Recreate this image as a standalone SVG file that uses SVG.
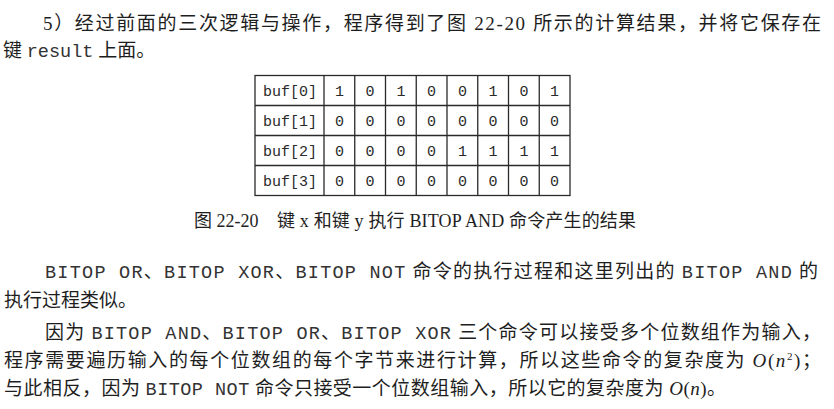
<svg xmlns="http://www.w3.org/2000/svg" width="834" height="409" viewBox="0 0 834 409">
<style>
.t{font-family:"Liberation Serif","Noto Sans CJK SC",serif;font-size:19px;fill:#1e1e1e}
.m{font-family:"Liberation Mono","Noto Sans CJK SC",monospace;font-size:18.5px;fill:#333333}
.cap{font-family:"Liberation Serif","Noto Sans CJK SC",serif;font-size:18px;fill:#1e1e1e}
.cell{font-family:"Liberation Mono",monospace;font-size:15px;fill:#2a2a2a;text-anchor:middle}
.grid{stroke:#2a2a2a;stroke-width:1.3;fill:none}
.i{font-style:italic}
</style>
<rect width="834" height="409" fill="#ffffff"/>
<g id="para1">
<text class="t" x="43" y="30" textLength="778" lengthAdjust="spacing">5）经过前面的三次逻辑与操作，程序得到了图 22-20 所示的计算结果，并将它保存在</text>
<text class="t" x="3" y="57">键 <tspan class="m">result</tspan> 上面。</text>
</g>
<g id="table">
<rect class="grid" x="255" y="75.5" width="315" height="120"/>
<g class="grid">
<line x1="255" y1="105.5" x2="570" y2="105.5"/>
<line x1="255" y1="135.5" x2="570" y2="135.5"/>
<line x1="255" y1="165.5" x2="570" y2="165.5"/>
<line x1="324" y1="75.5" x2="324" y2="195.5"/>
<line x1="354.75" y1="75.5" x2="354.75" y2="195.5"/>
<line x1="385.5" y1="75.5" x2="385.5" y2="195.5"/>
<line x1="416.25" y1="75.5" x2="416.25" y2="195.5"/>
<line x1="447" y1="75.5" x2="447" y2="195.5"/>
<line x1="477.75" y1="75.5" x2="477.75" y2="195.5"/>
<line x1="508.5" y1="75.5" x2="508.5" y2="195.5"/>
<line x1="539.25" y1="75.5" x2="539.25" y2="195.5"/>
</g>
<g id="row0">
<text class="cell" x="290" y="96">buf[0]</text>
<text class="cell" x="339.4" y="96">1</text><text class="cell" x="370.1" y="96">0</text><text class="cell" x="400.9" y="96">1</text><text class="cell" x="431.6" y="96">0</text><text class="cell" x="462.4" y="96">0</text><text class="cell" x="493.1" y="96">1</text><text class="cell" x="523.9" y="96">0</text><text class="cell" x="554.6" y="96">1</text>
</g>
<g id="row1">
<text class="cell" x="290" y="126">buf[1]</text>
<text class="cell" x="339.4" y="126">0</text><text class="cell" x="370.1" y="126">0</text><text class="cell" x="400.9" y="126">0</text><text class="cell" x="431.6" y="126">0</text><text class="cell" x="462.4" y="126">0</text><text class="cell" x="493.1" y="126">0</text><text class="cell" x="523.9" y="126">0</text><text class="cell" x="554.6" y="126">0</text>
</g>
<g id="row2">
<text class="cell" x="290" y="156">buf[2]</text>
<text class="cell" x="339.4" y="156">0</text><text class="cell" x="370.1" y="156">0</text><text class="cell" x="400.9" y="156">0</text><text class="cell" x="431.6" y="156">0</text><text class="cell" x="462.4" y="156">1</text><text class="cell" x="493.1" y="156">1</text><text class="cell" x="523.9" y="156">1</text><text class="cell" x="554.6" y="156">1</text>
</g>
<g id="row3">
<text class="cell" x="290" y="186">buf[3]</text>
<text class="cell" x="339.4" y="186">0</text><text class="cell" x="370.1" y="186">0</text><text class="cell" x="400.9" y="186">0</text><text class="cell" x="431.6" y="186">0</text><text class="cell" x="462.4" y="186">0</text><text class="cell" x="493.1" y="186">0</text><text class="cell" x="523.9" y="186">0</text><text class="cell" x="554.6" y="186">0</text>
</g>
</g>
<g id="caption">
<text class="cap" x="194" y="227">图 22-20</text>
<text class="cap" x="277" y="227" textLength="359" lengthAdjust="spacing">键 x 和键 y 执行 BITOP AND 命令产生的结果</text>
</g>
<g id="para2">
<text class="t" x="45" y="278" textLength="773" lengthAdjust="spacing"><tspan class="m">BITOP OR</tspan>、<tspan class="m">BITOP XOR</tspan>、<tspan class="m">BITOP NOT</tspan> 命令的执行过程和这里列出的 <tspan class="m">BITOP AND</tspan> 的</text>
<text class="t" x="4" y="307">执行过程类似。</text>
</g>
<g id="para3">
<text class="t" x="45" y="339" textLength="776" lengthAdjust="spacing">因为 <tspan class="m">BITOP AND</tspan>、<tspan class="m">BITOP OR</tspan>、<tspan class="m">BITOP XOR</tspan> 三个命令可以接受多个位数组作为输入，</text>
<text class="t" x="4" y="367" textLength="817" lengthAdjust="spacing">程序需要遍历输入的每个位数组的每个字节来进行计算，所以这些命令的复杂度为 <tspan class="i">O</tspan>(<tspan class="i">n</tspan><tspan font-size="11" dy="-7">2</tspan><tspan dy="7">)；</tspan></text>
<text class="t" x="4" y="395" textLength="722" lengthAdjust="spacing">与此相反，因为 <tspan class="m">BITOP NOT</tspan> 命令只接受一个位数组输入，所以它的复杂度为 <tspan class="i">O</tspan>(<tspan class="i">n</tspan>)。</text>
</g>
</svg>
